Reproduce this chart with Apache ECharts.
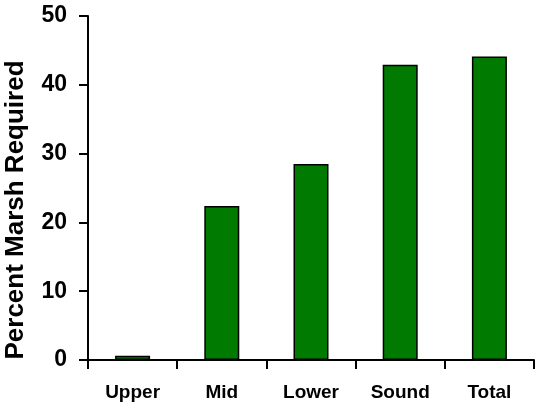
<!DOCTYPE html>
<html><head><meta charset="utf-8">
<script src="https://cdn.jsdelivr.net/npm/echarts@6/dist/echarts.min.js"></script>
<style>html,body{margin:0;padding:0;background:#fff}#c{width:539px;height:408px}</style>
</head><body><div id="c"></div>
<script>
var categories = ["Upper", "Mid", "Lower", "Sound", "Total"];
var values = [0.6, 22.4, 28.5, 42.9, 44.1];
var yTicks = [0, 10, 20, 30, 40, 50];

var chart = echarts.init(document.getElementById('c'), null, {renderer: 'canvas'});
chart.setOption({
  animation: false,
  grid: {left: 88, right: 5, top: 16, bottom: 48, containLabel: false, outerBoundsMode: 'none'},
  xAxis: {
    type: 'category', data: categories,
    axisLine: {lineStyle: {color: '#000', width: 2}},
    axisTick: {show: true, length: 9, lineStyle: {color: '#000', width: 2}},
    axisLabel: {color: '#000', fontFamily: 'Liberation Sans, Arial', fontWeight: 'bold', fontSize: 19, margin: 23}
  },
  yAxis: {
    type: 'value', min: yTicks[0], max: yTicks[yTicks.length - 1], interval: 10,
    name: 'Percent Marsh Required', nameLocation: 'middle', nameGap: 59,
    nameTextStyle: {color: '#000', fontFamily: 'Liberation Sans, Arial', fontWeight: 'bold', fontSize: 26, padding: [0, 44, 0, 0]},
    axisLine: {show: true, lineStyle: {color: '#000', width: 2}},
    axisTick: {show: true, length: 9, lineStyle: {color: '#000', width: 2}},
    splitLine: {show: false},
    axisLabel: {color: '#000', fontFamily: 'Liberation Sans, Arial', fontWeight: 'bold', fontSize: 23, margin: 21}
  },
  series: [{
    type: 'bar', data: values, barWidth: 35,
    itemStyle: {color: '#007a00', borderColor: '#000', borderWidth: 1.5}
  }]
});
</script></body></html>
